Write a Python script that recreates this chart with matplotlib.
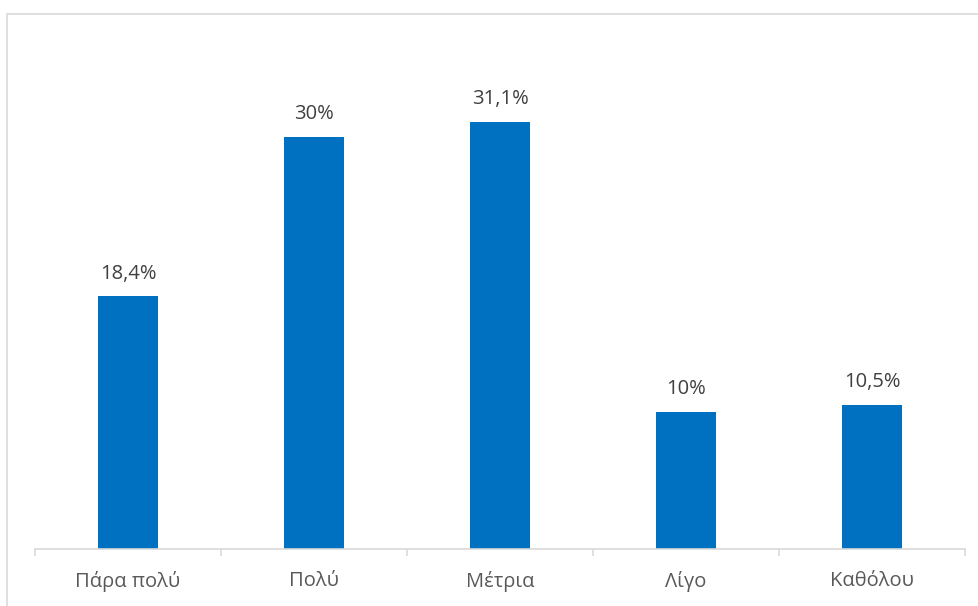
import matplotlib.pyplot as plt
from matplotlib.patches import Rectangle
import numpy as np

categories = ['Πάρα πολύ', 'Πολύ', 'Μέτρια', 'Λίγο', 'Καθόλου']
values = [18.4, 30, 31.1, 10, 10.5]
labels = ['18,4%', '30%', '31,1%', '10%', '10,5%']

plt.rcParams['font.family'] = ['Open Sans', 'DejaVu Sans']

W, H = 979, 606
fig = plt.figure(figsize=(W / 100, H / 100), dpi=100)

# outer chart border (cut off on right and bottom)
fig.patches.append(Rectangle((7 / W, -0.1), 1.1, 1 - 14 / H + 0.1, transform=fig.transFigure,
                             fill=False, edgecolor='#D9D9D9', linewidth=1.2))

ax = fig.add_axes([35 / W, (H - 549) / H, (965 - 35) / W, (549 - 68) / H])
x = np.arange(len(categories))
ax.bar(x, values, width=0.32, color='#0070C0')
ax.set_xlim(-0.5, len(categories) - 0.5)
ax.set_ylim(0, 35)

for xi, v, lab in zip(x, values, labels):
    ax.text(xi, v + 0.9, lab, ha='center', va='bottom', fontsize=14.5, color='#404040')

for s in ['top', 'right', 'left']:
    ax.spines[s].set_visible(False)
ax.spines['bottom'].set_color('#D9D9D9')
ax.spines['bottom'].set_linewidth(1.2)
ax.set_yticks([])
ax.set_xticks(x)
ax.set_xticklabels(categories, fontsize=14.5, color='#595959')
ax.tick_params(axis='x', which='major', length=0, pad=16)
ax.set_xticks(np.arange(-0.5, len(categories)), minor=True)
ax.tick_params(axis='x', which='minor', length=5, color='#D9D9D9', width=1.2)

fig.savefig('out.png', dpi=100)
